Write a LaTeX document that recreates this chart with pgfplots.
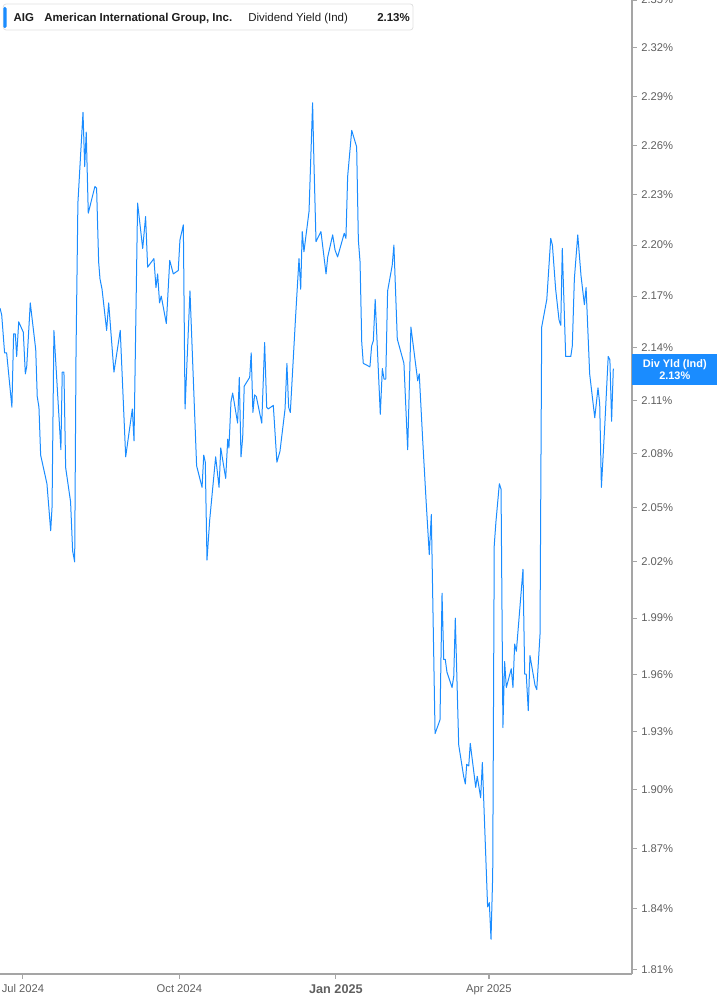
\documentclass[border=0pt]{standalone}
\usepackage{fontspec}
\setmainfont{Liberation Sans}
\usepackage{pgfplots}
\pgfplotsset{compat=1.18}
\definecolor{lineblue}{RGB}{26,140,255}
\definecolor{axgray}{RGB}{165,165,165}
\definecolor{lblgray}{RGB}{95,95,95}
\definecolor{ttl}{RGB}{30,30,30}
\begin{document}
\begin{tikzpicture}
\begin{axis}[
  at={(0pt,0pt)}, anchor=south west,
  scale only axis, width=474pt, height=730.5pt,
  xmin=-13.5, xmax=358.1,
  ymode=log, ymin=1.808, ymax=2.3502,
  clip=false,
  axis x line*=bottom, axis y line*=right,
  axis line style={-, axgray, line width=0.9pt},
  tick style={axgray, line width=0.8pt},
  major tick length=3.5pt, tick align=outside,
  xtick={0,92,184,274},
  xticklabels={Jul 2024, Oct 2024, {\fontsize{9.5pt}{11pt}\selectfont\bfseries Jan 2025}, Apr 2025},
  xticklabel style={font=\fontsize{8.4pt}{10pt}\selectfont, text=lblgray, yshift=-1pt},
  ytick={1.81,1.84,1.87,1.90,1.93,1.96,1.99,2.02,2.05,2.08,2.11,2.14,2.17,2.20,2.23,2.26,2.29,2.32,2.35},
  yticklabels={1.81\%,1.84\%,1.87\%,1.90\%,1.93\%,1.96\%,1.99\%,2.02\%,2.05\%,2.08\%,2.11\%,2.14\%,2.17\%,2.20\%,2.23\%,2.26\%,2.29\%,2.32\%,2.35\%},
  yticklabel style={font=\fontsize{8.4pt}{10pt}\selectfont, text=lblgray, anchor=west},
  minor tick num=0,
]
\addplot[lineblue, line width=0.75pt, line join=round] coordinates {
(-13.5,2.163) (-12.5,2.159) (-10.8,2.137) (-9.6,2.137) (-6.5,2.106) (-5.5,2.148) (-4.5,2.148) (-3.7,2.135) (-2.5,2.155) (0.2,2.149)
(1.4,2.125) (2.2,2.129) (4.3,2.166) (7.5,2.139) (8.4,2.112) (9.4,2.106) (10.4,2.079) (14.1,2.063) (16.3,2.037) (17.1,2.050)
(18.2,2.150) (22.3,2.082) (23.1,2.126) (24.1,2.126) (25.1,2.072) (28.0,2.053) (29.2,2.026) (30.4,2.020) (31.2,2.137) (32.3,2.225)
(33.5,2.247) (35.3,2.280) (36.3,2.247) (37.2,2.268) (38.4,2.219) (42.3,2.235) (43.3,2.234) (44.5,2.190) (45.3,2.180) (46.5,2.174)
(49.2,2.150) (50.4,2.166) (53.5,2.126) (57.2,2.150) (60.4,2.078) (64.3,2.105) (65.3,2.087) (67.4,2.225) (70.4,2.198) (72.1,2.217)
(73.3,2.187) (77.0,2.192) (78.2,2.175) (79.2,2.183) (80.3,2.166) (81.3,2.170) (84.3,2.154) (86.3,2.191) (88.4,2.183) (91.3,2.185)
(92.3,2.203) (94.3,2.212) (95.3,2.105) (98.2,2.173) (102.1,2.073) (105.3,2.061) (106.3,2.079) (107.2,2.075) (108.2,2.021) (109.8,2.043)
(113.3,2.078) (115.3,2.061) (116.3,2.083) (119.2,2.066) (120.4,2.088) (121.1,2.083) (122.3,2.109) (123.3,2.114) (126.2,2.097) (127.2,2.123)
(128.2,2.078) (129.2,2.089) (130.1,2.118) (133.3,2.123) (134.2,2.137) (135.2,2.103) (136.2,2.113) (137.2,2.112) (140.4,2.097) (142.1,2.143)
(143.3,2.106) (144.2,2.105) (147.2,2.107) (149.3,2.075) (151.1,2.081) (154.1,2.105) (155.2,2.131) (156.2,2.106) (157.2,2.103) (160.3,2.158)
(162.3,2.192) (163.3,2.174) (164.2,2.208) (165.2,2.196) (168.2,2.220) (170.3,2.286) (171.1,2.249) (172.3,2.202) (175.2,2.208) (178.2,2.183)
(179.2,2.193) (182.1,2.206) (183.5,2.197) (185.0,2.193) (188.9,2.207) (189.9,2.204) (190.9,2.241) (193.3,2.269) (196.2,2.259) (197.2,2.203)
(198.2,2.190) (199.2,2.143) (200.1,2.131) (204.0,2.129) (205.0,2.141) (206.0,2.144) (207.1,2.168) (210.1,2.102) (211.3,2.128) (212.3,2.122)
(213.3,2.122) (214.4,2.173) (217.1,2.188) (218.1,2.200) (220.1,2.145) (224.0,2.131) (226.2,2.082) (228.1,2.152) (232.1,2.121) (233.0,2.125)
(235.0,2.088) (237.0,2.054) (238.9,2.024) (240.1,2.046) (242.3,1.929) (245.2,1.936) (246.4,2.003) (247.4,1.968) (248.3,1.968) (249.3,1.961)
(252.3,1.953) (253.3,1.959) (254.2,1.990) (256.2,1.923) (259.1,1.907) (260.1,1.903) (260.9,1.913) (262.1,1.912) (263.0,1.924) (266.2,1.901)
(267.1,1.907) (269.1,1.896) (270.1,1.914) (273.2,1.841) (274.2,1.843) (275.2,1.825) (276.2,1.857) (277.1,2.029) (278.1,2.042) (280.1,2.063)
(281.1,2.060) (282.2,1.932) (283.2,1.967) (284.2,1.953) (287.1,1.963) (288.1,1.953) (289.1,1.976) (290.1,1.972) (294.0,2.016) (295.0,1.960)
(295.9,1.960) (297.1,1.941) (298.1,1.970) (301.1,1.954) (302.1,1.952) (304.0,1.981) (305.0,2.152) (308.0,2.168) (310.3,2.204) (311.3,2.200)
(313.2,2.174) (315.2,2.156) (316.2,2.153) (317.1,2.198) (319.1,2.135) (322.1,2.135) (323.0,2.141) (324.2,2.180) (326.2,2.206) (328.1,2.182)
(330.1,2.165) (331.1,2.175) (333.2,2.125) (336.2,2.100) (338.1,2.117) (339.1,2.108) (340.1,2.061) (342.1,2.096) (344.1,2.135) (345.1,2.133)
(346.1,2.098) (347.1,2.128)
};
\node[fill=lineblue, text=white, anchor=west, minimum width=63.75pt, minimum height=23.25pt, inner sep=0pt, align=center,
  font=\fontsize{8.2pt}{8.6pt}\selectfont\bfseries] at (axis cs:358.1,2.1275) {Div Yld (Ind)\\2.13\%};
\end{axis}
% title box
\draw[rounded corners=2pt, draw=black!12, fill=white, line width=0.6pt] (2.5pt,727.5pt) rectangle (309.75pt,708pt);
\fill[lineblue, rounded corners=1pt] (2.5pt,725.25pt) rectangle (4.9pt,709.5pt);
\begin{scope}[every node/.style={anchor=base west, inner sep=0pt, text=ttl, font=\fontsize{8.6pt}{10pt}\selectfont}]
\node at (10pt,714.6pt) {\bfseries AIG};
\node at (33pt,714.6pt) {\bfseries American International Group, Inc.};
\node at (186pt,714.6pt) {Dividend Yield (Ind)};
\node at (282.75pt,714.6pt) {\bfseries 2.13\%};
\end{scope}
\pgfresetboundingbox
\path[use as bounding box] (0pt,-23.25pt) rectangle (537.75pt,730.5pt);
\end{tikzpicture}
\end{document}
